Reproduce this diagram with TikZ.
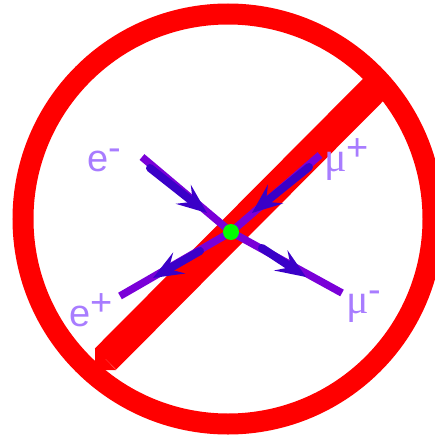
\documentclass[tikz,border=0pt]{standalone}
\usepackage{fontspec}
\setmainfont{Liberation Sans}
\newfontfamily\muFont{Liberation Serif}
\usepackage{xcolor}
\usetikzlibrary{arrows.meta, positioning}
\definecolor{legPurple}{HTML}{7A00D8}
\definecolor{legBlue}{HTML}{3A00C8}
\definecolor{labelLilac}{HTML}{A87CFF}
\newcommand{\upMark}[1]{\raisebox{11pt}{#1}}
\newcommand{\muGlyph}{{\fontsize{42}{42}\muFont μ}}
\tikzset{
  legLine/.style={legPurple, line width=7.5pt},
  legArrow/.style={legBlue, line width=8pt, line cap=round,
    -{Stealth[length=30pt,width=24pt,inset=12pt]}},
  partLabel/.style={labelLilac, anchor=base west, inner sep=0pt,
    font=\fontsize{38}{38}\selectfont}
}

\begin{document}
\begin{tikzpicture}[x=1pt,y=-1pt]
  \useasboundingbox (0,0) rectangle (435,436);

  \coordinate (C) at (228,219);
  \coordinate (V) at (231,232);
  \coordinate (B1) at (105.5,359);
  \coordinate (B2) at (376,87);

  \draw[red, line width=21pt] (C) circle (205);
  \draw[red, line width=30pt] (B1)--(B2);
  % square foot of the bar, running into the ring
  \fill[red] (95,348)--(95,370)--(116,370)--cycle;

  % outer ends of the legs
  \coordinate (Em) at (142,157);
  \coordinate (Mp) at (320,155);
  \coordinate (Ep) at (120,296);
  \coordinate (Mm) at (342,293);
  \foreach \e in {Em,Mp,Ep,Mm}{
    \draw[legLine] (\e)--(V);
  }

  \coordinate (EmA) at (150,168);
  \coordinate (EmB) at (207,213);
  \coordinate (MpA) at (309,167);
  \coordinate (MpB) at (252,213);
  \coordinate (EpA) at (200,251);
  \coordinate (EpB) at (153,278);
  \coordinate (MmA) at (262,248);
  \coordinate (MmB) at (306,277);
  \draw[legArrow] (EmA)--(EmB);
  \draw[legArrow] (MpA)--(MpB);
  \draw[legArrow] (EpA)--(EpB);
  \draw[legArrow] (MmA)--(MmB);

  \node[circle, fill=green, inner sep=0pt, minimum size=16pt] (dot) at (V) {};

  \node[partLabel] (eMinus) at (87,171) {e\upMark{-}};
  \node[partLabel] (ePlus) at (69,326) {e\upMark{+}};
  \node[partLabel] (muPlus) at (324,171) {\muGlyph\upMark{+}};
  \node[partLabel] (muMinus) at (346,313) {\muGlyph\upMark{-}};
\end{tikzpicture}
\end{document}
